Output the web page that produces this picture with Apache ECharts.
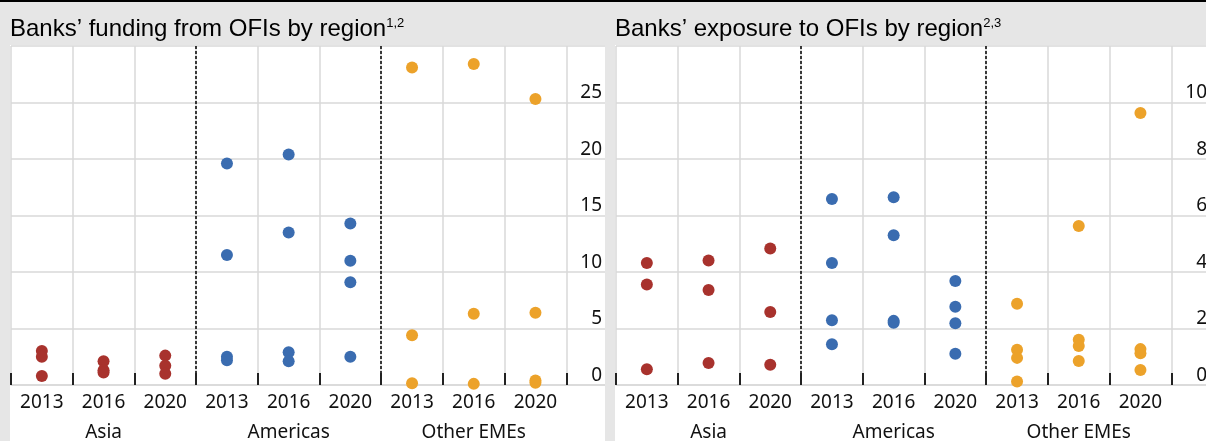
<!DOCTYPE html>
<html><head><meta charset="utf-8">
<script src="https://cdn.jsdelivr.net/npm/echarts@6/dist/echarts.min.js"></script>
<style>
html,body{margin:0;padding:0;background:#e6e6e6;}
#wrap{position:relative;width:1206px;height:441px;overflow:hidden;background:#e6e6e6;}
#c1{position:absolute;left:0;top:0;width:606px;height:441px;}
#c2{position:absolute;left:605px;top:0;width:601px;height:441px;}
#topline{position:absolute;left:0;top:0;width:1206px;height:2px;background:#000;z-index:5;}
</style>
</head><body>
<div id="wrap"><div id="c1"></div><div id="c2"></div><div id="topline"></div></div>
<script>
// ---- data ----
const years = ['2013', '2016', '2020'];
const regions = ['Asia', 'Americas', 'Other EMEs'];
const regionColors = ['#a8322d', '#3a6cb0', '#eca22a'];

// Banks' funding from OFIs (per year: points)
const fundingAsia     = [[3.0, 2.5, 0.8], [2.1, 1.3, 1.1], [2.6, 1.7, 1.0]];
const fundingAmericas = [[19.6, 11.5, 2.5, 2.2], [20.4, 13.5, 2.9, 2.1], [14.3, 11.0, 9.1, 2.5]];
const fundingOther    = [[28.1, 4.4, 0.15], [28.4, 6.3, 0.1], [25.3, 6.4, 0.4, 0.2]];

// Banks' exposure to OFIs
const exposureAsia     = [[4.32, 3.56, 0.56], [4.41, 3.36, 0.78], [4.83, 2.58, 0.72]];
const exposureAmericas = [[6.58, 4.32, 2.29, 1.44], [6.65, 5.3, 2.27, 2.2], [3.68, 2.77, 2.19, 1.11]];
const exposureOther    = [[2.88, 1.25, 0.96, 0.12], [5.63, 1.6, 1.38, 0.85], [9.63, 1.27, 1.12, 0.53]];

const fundingAxis  = { min: 0, max: 30, interval: 5 };
const exposureAxis = { min: 0, max: 12, interval: 2 };

const titleLeft  = { main: 'Banks’ funding from OFIs by region', sup: '1,2' };
const titleRight = { main: 'Banks’ exposure to OFIs by region', sup: '2,3' };

// ---- build ----
const FONT = 'Noto Sans';
const xCats = [].concat(years, years, years, ['']);
const groupCats = ['', regions[0], '', '', regions[1], '', '', regions[2], '', ''];

function seriesFor(regionArrays) {
  return regionArrays.map((arr, ri) => ({
    type: 'scatter',
    name: regions[ri],
    symbolSize: 12,
    itemStyle: { color: regionColors[ri], opacity: 1 },
    data: arr.flatMap((vals, yi) => vals.map(v => [ri * 3 + yi, v])),
    z: 5
  }));
}

function makeOption(title, axis, regionArrays, divWidth) {
  const gridRight = divWidth - 628;
  return {
    animation: false,
    backgroundColor: '#e6e6e6',
    graphic: [{
      type: 'rect', shape: { x: 10, y: 45, width: 700, height: 400 },
      style: { fill: '#ffffff' }, z: -10, silent: true
    }],
    title: {
      text: '{t|' + title.main + '}{s|' + title.sup + '}',
      left: 10, top: 17, padding: 0,
      textStyle: {
        fontWeight: 'normal',
        rich: {
          t: { fontFamily: 'Liberation Sans', fontWeight: 'normal', fontSize: 24, color: '#000', lineHeight: 25 },
          s: { fontFamily: 'Liberation Sans', fontWeight: 'normal', fontSize: 13, color: '#000', verticalAlign: 'top', lineHeight: 14 }
        }
      }
    },
    grid: { left: 11, right: gridRight, top: 46, bottom: 56, show: true, backgroundColor: '#fff', borderWidth: 0,
      containLabel: false, outerBoundsMode: 'none' },
    xAxis: [{
      type: 'category', data: xCats, position: 'bottom',
      axisLine: { show: true, lineStyle: { color: '#d9d9d9', width: 1.5 } },
      axisTick: { show: true, inside: true, length: 12, lineStyle: { color: '#222', width: 2 } },
      axisLabel: { interval: 0, margin: 8, fontFamily: FONT, fontSize: 19, color: '#111' },
      splitLine: { show: true, lineStyle: { color: '#d9d9d9', width: 1.5 } }
    }, {
      type: 'category', data: groupCats, position: 'bottom',
      axisLine: { show: false }, axisTick: { show: false },
      axisLabel: { interval: 0, margin: 38, fontFamily: FONT, fontSize: 19, color: '#111' },
      splitLine: {
        show: true,
        interval: function (idx) { return idx === 3 || idx === 6; },
        lineStyle: { color: '#000', width: 1.5, type: [3, 2] }
      }
    }],
    yAxis: {
      type: 'value', position: 'right', offset: 606 - 628,
      min: axis.min, max: axis.max, interval: axis.interval,
      axisLine: { show: false }, axisTick: { show: false },
      axisLabel: { inside: true, margin: 4, showMaxLabel: false, verticalAlign: 'bottom',
        fontFamily: FONT, fontSize: 19, color: '#111' },
      splitLine: { show: true, lineStyle: { color: '#d9d9d9', width: 1.5 } }
    },
    series: seriesFor(regionArrays)
  };
}

const c1 = echarts.init(document.getElementById('c1'));
c1.setOption(makeOption(titleLeft, fundingAxis, [fundingAsia, fundingAmericas, fundingOther], 606));
const c2 = echarts.init(document.getElementById('c2'));
c2.setOption(makeOption(titleRight, exposureAxis, [exposureAsia, exposureAmericas, exposureOther], 601));
</script>
</body></html>
